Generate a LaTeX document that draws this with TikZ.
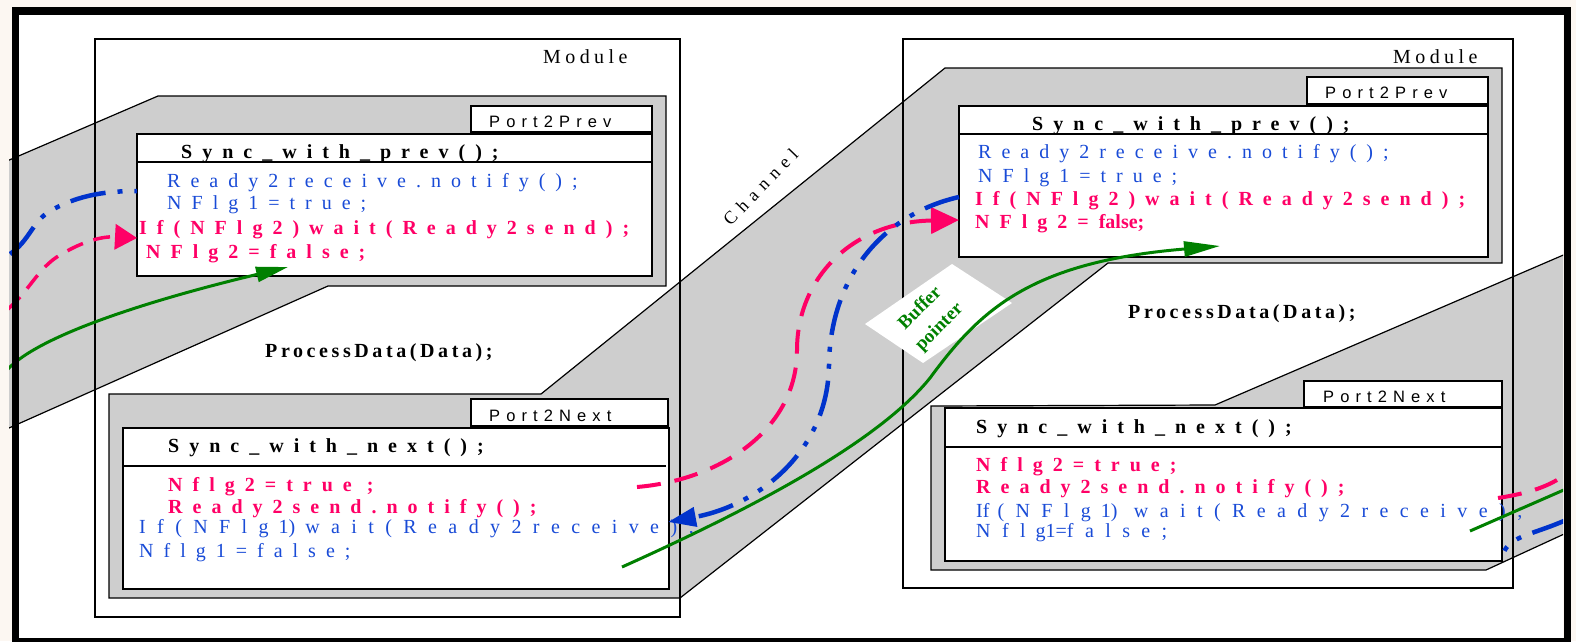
\documentclass[tikz,border=0pt]{standalone}
\usepackage{fontspec}
\setmainfont{Liberation Serif}
\newfontfamily\tabfamily{Liberation Sans}
\usetikzlibrary{arrows.meta}
\definecolor{pagebg}{RGB}{252,247,242}
\definecolor{chgrey}{RGB}{206,206,206}
\definecolor{cred}{RGB}{255,0,102}
\definecolor{cbluetext}{RGB}{25,75,215}
\definecolor{cblue}{RGB}{0,51,204}
\definecolor{cgreen}{RGB}{0,128,0}
\newcommand\codesz{\fontsize{20}{24}\selectfont}
\newcommand\LS[2][50]{{\addfontfeatures{LetterSpace=#1}#2}}
\newcommand\gap{\kern10pt}
\begin{document}
\begin{tikzpicture}[x=1pt,y=-1pt,
  chan/.style={fill=chgrey,draw=black,line width=1.2pt},
  modbox/.style={draw=black,line width=1.3pt},
  wbox/.style={fill=white,draw=black,line width=1.8pt},
  sepline/.style={draw=black,line width=1.5pt},
  codeR/.style={anchor=base west,inner sep=0pt,font=\codesz\addfontfeatures{LetterSpace=50}},
  codeRw/.style={anchor=base west,inner sep=0pt,font=\codesz\addfontfeatures{LetterSpace=57}},
  codeB/.style={anchor=base west,inner sep=0pt,font=\codesz\bfseries\addfontfeatures{LetterSpace=50}},
  procB/.style={anchor=base west,inner sep=0pt,font=\codesz\bfseries\addfontfeatures{LetterSpace=18}},
  modlbl/.style={anchor=base west,inner sep=0pt,font=\codesz\addfontfeatures{LetterSpace=22}},
  tabtxt/.style={anchor=base west,inner sep=0pt,font=\tabfamily\fontsize{16.5}{19}\selectfont\addfontfeatures{LetterSpace=37}},
  bufftxt/.style={inner sep=0pt,rotate=45,align=center,text=cgreen,font=\fontsize{19}{27}\selectfont\bfseries},
  redc/.style={draw=cred,line width=4pt,dash pattern=on 24pt off 14pt},
  redcl/.style={draw=cred,line width=3.5pt,dash pattern=on 17pt off 11pt},
  bluec/.style={draw=cblue,line width=4.5pt,dash pattern=on 36pt off 12pt on 5pt off 12pt on 5pt off 12pt},
  greenc/.style={draw=cgreen,line width=3pt}
]
\useasboundingbox (0,0) rectangle (1576,641);
\fill[pagebg] (0,0) rectangle (1576,641);
\fill[white] (19,14) rectangle (1563,641);
\begin{scope}
\clip (9,0) rectangle (1563,641);
% channels
\draw[chan] (0,164) -- (158,96) -- (666,96) -- (666,286) -- (328,286) -- (0,432) -- cycle;
\draw[chan] (109,394) -- (541,394) -- (945,68) -- (1502,68) -- (1502,263) -- (1108,263) -- (680,598) -- (109,598) -- cycle;
\draw[chan] (931,406) -- (1215,405) -- (1575,250) -- (1575,529) -- (1486,570) -- (931,570) -- cycle;
% modules
\draw[modbox] (95,39) rectangle (680,617);
\draw[modbox] (903,39) rectangle (1513,588);
\node[modlbl] (mod1) at (543,63) {Module};
\node[modlbl] (mod2) at (1393,63) {Module};
% left Port2Prev
\draw[wbox] (471,106) rectangle (652,132);
\node[tabtxt] (tab1) at (489,127) {Port2Prev};
\draw[wbox] (137,134) rectangle (652,276);
\draw[sepline] (137,162) -- (652,162);
\node[codeB] (h1) at (181,158) {Sync\_with\_prev();};
\node[codeR,text=cbluetext] (a1) at (167,187) {Ready2receive.notify();};
\node[codeR,text=cbluetext] (a2) at (167,209) {NFlg1=true;};
\node[codeB,text=cred] (a3) at (139,234) {If(NFlg2)wait(Ready2send);};
\node[codeB,text=cred] (a4) at (146,258) {NFlg2=false;};
\node[procB] (p1) at (265,357) {ProcessData(Data);};
% left Port2Next
\draw[wbox] (471,399) rectangle (668,426);
\node[tabtxt] (tab2) at (489,421) {Port2Next};
\draw[wbox] (123,428) rectangle (669,589);
\draw[sepline] (123,466) -- (666,466);
\node[codeB] (h2) at (168,452) {Sync\_with\_next();};
\node[codeB,text=cred] (b1) at (168,491) {Nflg2=true ;};
\node[codeB,text=cred] (b2) at (168,513) {Ready2send.notify();};
\node[codeRw,text=cbluetext] (b3) at (139,533) {If(NFlg\gap\LS[0]{1)}\gap wait(Ready2receive);};
\node[codeR,text=cbluetext] (b4) at (139,557) {Nflg1=false;};
% right Port2Prev
\draw[wbox] (1307,77) rectangle (1488,104);
\node[tabtxt] (tab3) at (1325,98) {Port2Prev};
\draw[wbox] (959,106) rectangle (1488,257);
\draw[sepline] (959,134) -- (1488,134);
\node[codeB] (h3) at (1032,130) {Sync\_with\_prev();};
\node[codeR,text=cbluetext] (c1) at (978,158) {Ready2receive.notify();};
\node[codeR,text=cbluetext] (c2) at (978,182) {NFlg1=true;};
\node[codeB,text=cred] (c3) at (975,205) {If(NFlg2)wait(Ready2send);};
\node[codeB,text=cred] (c4) at (975,228) {NFlg2=\gap\LS[0]{false;}};
\node[procB] (p2) at (1128,318) {ProcessData(Data);};
% right Port2Next
\draw[wbox] (1304,381) rectangle (1502,407);
\node[tabtxt] (tab4) at (1323,402) {Port2Next};
\draw[wbox] (945,408) rectangle (1502,561);
\draw[sepline] (945,447) -- (1502,447);
\node[codeB] (h4) at (976,433) {Sync\_with\_next();};
\node[codeB,text=cred] (d1) at (976,471) {Nflg2=true;};
\node[codeB,text=cred] (d2) at (976,493) {Ready2send.notify();};
\node[codeRw,text=cbluetext] (d3) at (976,517) {\LS[0]{If}\kern8pt(NFlg\gap\LS[0]{1)} wait(Ready2receive);};
\node[codeRw,text=cbluetext] (d4) at (976,537) {Nfl\gap\LS[0]{g1=}false;};
% channel label
\node[inner sep=0pt,anchor=base,rotate=46,font=\fontsize{18}{21}\selectfont\addfontfeatures{LetterSpace=36}] (chl) at (765,191) {Channel};
% buffer pointer label
\fill[white] (865,324) -- (952,264) -- (1012,303) -- (923,363) -- cycle;
\node[bufftxt] (buf) at (930,318) {Buffer\\pointer};
% curves
\coordinate (rA) at (637,487); \coordinate (rB) at (959,220);
\draw[redc,-{Triangle[length=28pt,width=26pt]}] (rA) .. controls (720,480) and (797,430) .. (797,350) .. controls (797,280) and (850,222) .. (rB);
\coordinate (bA) at (959,197); \coordinate (bB) at (668,522);
\draw[bluec,-{Triangle[length=28pt,width=19pt]}] (bA) .. controls (880,215) and (830,280) .. (829,365) .. controls (828,450) and (760,505) .. (bB);
\coordinate (gA) at (622,567); \coordinate (gB) at (1220,246);
\draw[greenc,-{Triangle[length=36pt,width=15pt]}] (gA) .. controls (760,505) and (880,440) .. (930,378) .. controls (980,310) and (1030,262) .. (gB);
\coordinate (rl0) at (8,309); \coordinate (rl1) at (137,238);
\draw[redcl,-{Triangle[length=22pt,width=25pt]}] (rl0) .. controls (30,290) and (38,268) .. (60,255) .. controls (80,243) and (100,236) .. (rl1);
\coordinate (bl0) at (10,254); \coordinate (bl1) at (137,191);
\draw[bluec] (bl0) .. controls (30,240) and (32,222) .. (50,211) .. controls (75,197) and (100,191) .. (bl1);
\coordinate (gl0) at (8,369); \coordinate (gl1) at (288,267);
\draw[greenc,-{Triangle[length=32pt,width=15pt]}] (gl0) .. controls (40,335) and (150,300) .. (gl1);
\coordinate (rr0) at (1498,498); \coordinate (rr1) at (1566,474);
\draw[redc] (rr0) .. controls (1530,493) and (1550,486) .. (rr1);
\coordinate (gr0) at (1470,531); \coordinate (gr1) at (1566,489);
\draw[greenc] (gr0) -- (gr1);
\coordinate (br0) at (1566,520); \coordinate (br1) at (1502,558);
\draw[bluec] (br0) .. controls (1530,536) and (1506,536) .. (br1);
\end{scope}
\draw[line width=7.5pt] (15.5,10.75) rectangle (1567.5,642);
\end{tikzpicture}
\end{document}
